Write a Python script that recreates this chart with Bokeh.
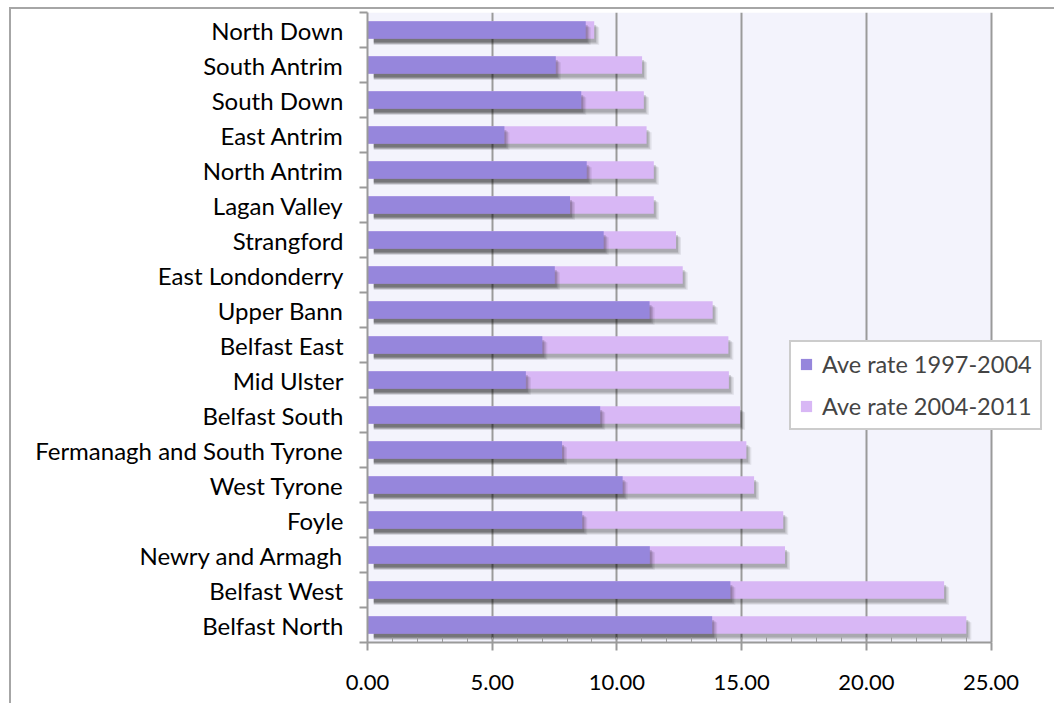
from bokeh.plotting import figure
from bokeh.models import (FixedTicker, NumeralTickFormatter, Legend, LegendItem,
                          BoxAnnotation, Range1d)
from bokeh.embed import file_html
from bokeh.resources import INLINE

# Constituencies, top to bottom
constituencies = [
    "North Down", "South Antrim", "South Down", "East Antrim", "North Antrim",
    "Lagan Valley", "Strangford", "East Londonderry", "Upper Bann", "Belfast East",
    "Mid Ulster", "Belfast South", "Fermanagh and South Tyrone", "West Tyrone",
    "Foyle", "Newry and Armagh", "Belfast West", "Belfast North",
]
rate_1997_2004 = [8.75, 7.55, 8.57, 5.49, 8.79, 8.12, 9.47, 7.51, 11.31, 7.01,
                  6.35, 9.33, 7.80, 10.23, 8.61, 11.32, 14.55, 13.82]
rate_2004_2011 = [9.09, 11.01, 11.08, 11.19, 11.48, 11.48, 12.37, 12.64, 13.84, 14.47,
                  14.49, 14.94, 15.19, 15.50, 16.67, 16.74, 23.12, 24.01]
x_ticks = [0, 5, 10, 15, 20, 25]
x_max = 25

FONT = "Lato"
DARK = "#9686DC"
LIGHT = "#D8B7F5"
GRID = "#9A9A9A"

n = len(constituencies)
ycent = [n - i - 0.5 for i in range(n)]

# the frame runs on past 25 so the legend can sit over the right margin
frame_w = 689
x_end = x_max * frame_w / 623.5

p = figure(width=1045, height=696, output_backend="svg", toolbar_location=None,
           x_range=Range1d(0, x_end), y_range=Range1d(0, n),
           min_border_left=356, min_border_right=0, min_border_top=3,
           min_border_bottom=63)
p.title = None
p.background_fill_color = "white"
p.border_fill_color = "white"
p.outline_line_color = None
p.styles = {"border-left": "2px solid #A6A6A6", "border-top": "2px solid #A6A6A6",
            "margin-left": "9px", "margin-top": "7px"}

# plot area panel
p.add_layout(BoxAnnotation(left=0, right=x_max, fill_color="#F3F3FC", fill_alpha=1,
                           line_color=None, level="image"))

# soft drop shadows under each bar
def shadow(values):
    for dy, dx, a in [(0.17, 0.20, 0.08), (0.14, 0.14, 0.11), (0.11, 0.08, 0.15)]:
        p.hbar(y=[c - dy for c in ycent], left=0.25,
               right=[v + dx for v in values], height=0.5,
               fill_color="black", fill_alpha=a, line_color=None)

shadow(rate_2004_2011)
light = p.hbar(y=ycent, left=0, right=rate_2004_2011, height=0.5,
               fill_color=LIGHT, line_color=None)
shadow(rate_1997_2004)
dark = p.hbar(y=ycent, left=0, right=rate_1997_2004, height=0.5,
              fill_color=DARK, line_color=None)

# x axis
xa = p.xaxis[0]
xa.bounds = (0, x_max)
xa.ticker = FixedTicker(ticks=x_ticks, minor_ticks=list(range(0, x_max + 1)))
xa.formatter = NumeralTickFormatter(format="0.00")
xa.axis_line_color = GRID
xa.axis_line_width = 2
xa.major_tick_line_color = GRID
xa.major_tick_line_width = 2
xa.major_tick_in = 0
xa.major_tick_out = 8
xa.minor_tick_line_color = GRID
xa.minor_tick_line_width = 1
xa.minor_tick_in = 5
xa.minor_tick_out = 0
xa.major_label_standoff = 24
xa.major_label_text_font = FONT
xa.major_label_text_font_size = "22px"
xa.major_label_text_color = "black"

# y axis: names at row centres, ticks on row boundaries
ya = p.yaxis[0]
ya.ticker = FixedTicker(ticks=ycent, minor_ticks=list(range(0, n + 1)))
ya.major_label_overrides = {c: name for c, name in zip(ycent, constituencies)}
ya.axis_line_color = GRID
ya.axis_line_width = 2
ya.major_tick_line_color = None
ya.major_tick_in = 0
ya.major_tick_out = 8
ya.minor_tick_line_color = GRID
ya.minor_tick_line_width = 2
ya.minor_tick_in = 0
ya.minor_tick_out = 8
ya.major_label_standoff = 16
ya.major_label_text_font = FONT
ya.major_label_text_font_size = "24px"
ya.major_label_text_color = "black"

p.xgrid.ticker = FixedTicker(ticks=x_ticks)
p.xgrid.grid_line_color = GRID
p.xgrid.grid_line_width = 2
p.ygrid.grid_line_color = None

legend = Legend(items=[LegendItem(label="Ave rate 1997-2004", renderers=[dark]),
                       LegendItem(label="Ave rate 2004-2011", renderers=[light])],
                location=(422, 212), orientation="vertical",
                label_text_font=FONT, label_text_font_size="23.5px",
                glyph_width=14, glyph_height=14, label_standoff=9,
                padding=8, spacing=14, margin=0,
                border_line_color=GRID, border_line_width=2,
                background_fill_color="white", background_fill_alpha=1)
p.add_layout(legend, "center")

open("out.html", "w").write(file_html(p, INLINE))
